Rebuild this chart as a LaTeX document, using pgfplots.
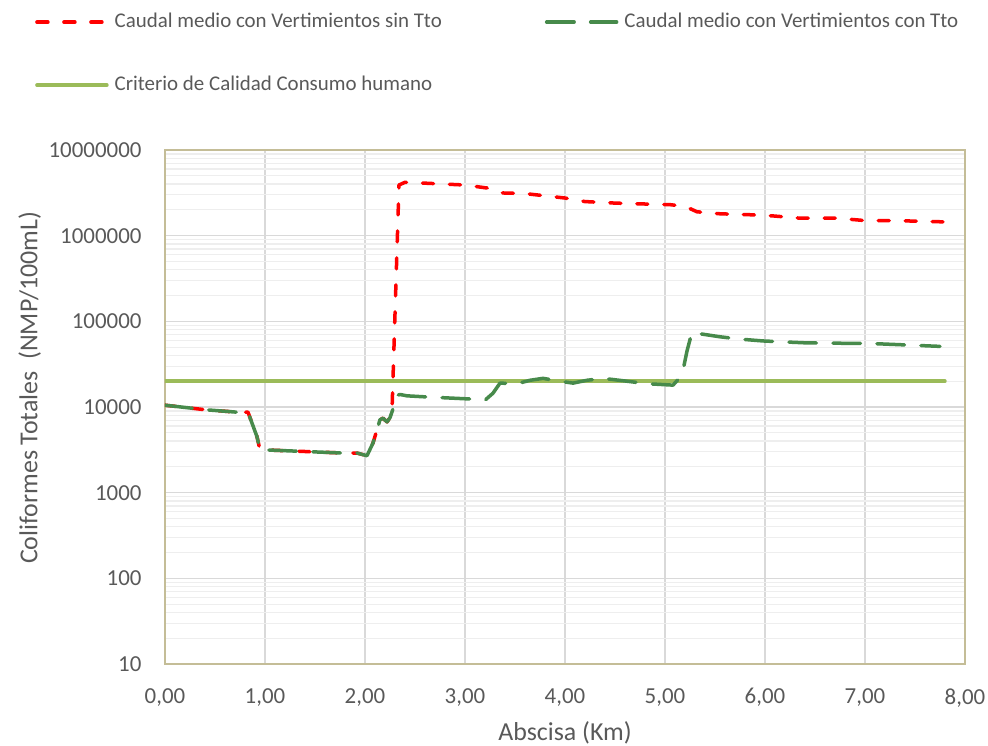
\documentclass[border=0pt]{standalone}
\usepackage{pgfplots}
\pgfplotsset{compat=1.18}
\usepackage{fontspec}
\setmainfont{Carlito}
\definecolor{txt}{HTML}{595959}
\definecolor{redc}{HTML}{FF0000}
\definecolor{greenc}{HTML}{478A4B}
\definecolor{critc}{HTML}{9BBB59}
\definecolor{axc}{HTML}{C4BD97}
\definecolor{majg}{HTML}{D9D9D9}
\definecolor{ming}{HTML}{EEEEEE}
\begin{document}
\begin{tikzpicture}
\useasboundingbox (-165bp,-82bp) rectangle (823bp,664bp);
\begin{axis}[
  scale only axis, width=800bp, height=514bp,
  at={(0,0)}, anchor=south west,
  xmin=0, xmax=8, ymode=log, ymin=10, ymax=1e7,
  xtick={0,1,2,3,4,5,6,7,8},
  xticklabels={{0,00},{1,00},{2,00},{3,00},{4,00},{5,00},{6,00},{7,00},{8,00}},
  ytick={10,100,1000,10000,100000,1000000,10000000},
  yticklabels={10,100,1000,10000,100000,1000000,10000000},
  minor ytick={20,30,40,50,60,70,80,90,200,300,400,500,600,700,800,900,2000,3000,4000,5000,6000,7000,8000,9000,20000,30000,40000,50000,60000,70000,80000,90000,200000,300000,400000,500000,600000,700000,800000,900000,2000000,3000000,4000000,5000000,6000000,7000000,8000000,9000000},
  xmajorgrids=true, ymajorgrids=true, yminorgrids=true,
  major grid style={majg, line width=1.6bp},
  minor grid style={ming, line width=1.2bp},
  major tick length=0pt, minor tick length=0pt,
  axis line style={axc, line width=1.5bp},
  tick label style={font=\fontsize{23}{27}\selectfont, text=txt},
  xticklabel style={yshift=-21bp},
  yticklabel style={xshift=-20bp},
  xlabel={Abscisa (Km)},
  ylabel={Coliformes Totales~~(NMP/100mL)},
  label style={font=\fontsize{26}{30}\selectfont, text=txt},
  xlabel style={at={(axis description cs:0.5,-0.134)}, anchor=center},
  ylabel style={at={(axis description cs:-0.169,0.537)}, anchor=center},
  legend columns=2,
  legend cell align=left,
  legend image code/.code={\draw[#1] (0bp,0bp) -- (70bp,0bp);},
  legend style={at={(axis description cs:-0.1625,1.2685)}, anchor=north west,
    draw=none, fill=none, inner sep=0pt,
    font=\fontsize{21}{25}\selectfont, text=txt,
    nodes={inner sep=0pt, text height=15bp, text depth=5bp},
    row sep=43bp,
    /tikz/every odd column/.append style={column sep=6bp},
    /tikz/every even column/.append style={column sep=103bp}},
  every axis plot/.append style={line width=3.5bp, line cap=round, line join=round},
]
\addplot[critc, forget plot] coordinates {(0,20000) (7.8,20000)};
\addplot[redc, dash pattern=on 11bp off 16bp] coordinates {
(0.00,10500) (0.40,9300) (0.72,8700) (0.83,8700) (0.92,4500) (0.95,3150)
(1.02,3150) (1.32,3050) (1.78,2900) (1.92,2900) (2.02,2700) (2.08,3800)
(2.15,7100) (2.18,7400) (2.22,6700) (2.25,7500) (2.27,9000) (2.34,3900000)
(2.40,4200000) (2.60,4100000) (3.00,3900000) (3.22,3600000) (3.30,3300000)
(3.38,3150000) (3.60,3100000) (4.00,2750000) (4.20,2500000) (4.50,2400000)
(4.75,2350000) (5.05,2300000) (5.20,2200000) (5.32,1900000) (5.55,1800000)
(5.88,1750000) (6.08,1700000) (6.35,1600000) (6.72,1600000) (7.00,1500000)
(7.28,1500000) (7.78,1450000)};
\addlegendentry{Caudal medio con Vertimientos sin Tto}
\addplot[greenc, dash pattern=on 27.5bp off 16.5bp] coordinates {
(0.00,10500) (0.40,9300) (0.72,8700) (0.83,8700) (0.92,4500) (0.95,3150)
(1.02,3150) (1.32,3050) (1.78,2900) (1.92,2900) (2.02,2700) (2.08,3800)
(2.15,7100) (2.18,7400) (2.22,6700) (2.25,7500) (2.28,9500) (2.31,13500)
(2.35,14000) (2.42,13500) (2.62,13100) (3.05,12400) (3.20,12000) (3.28,14500)
(3.35,19000) (3.52,18700) (3.65,20500) (3.78,21600) (3.95,20000) (4.08,19000)
(4.22,20500) (4.38,21600) (4.62,20000) (4.82,18700) (5.08,18000) (5.17,23500)
(5.22,45000) (5.27,75000) (5.37,71000) (5.55,66000) (5.75,62000) (5.98,59000)
(6.42,56000) (7.08,55000) (7.75,51000)};
\addlegendentry{Caudal medio con Vertimientos con Tto}
\addlegendimage{critc, line width=3.5bp, line cap=round}
\addlegendentry{Criterio de Calidad Consumo humano}
\end{axis}
\end{tikzpicture}
\end{document}
